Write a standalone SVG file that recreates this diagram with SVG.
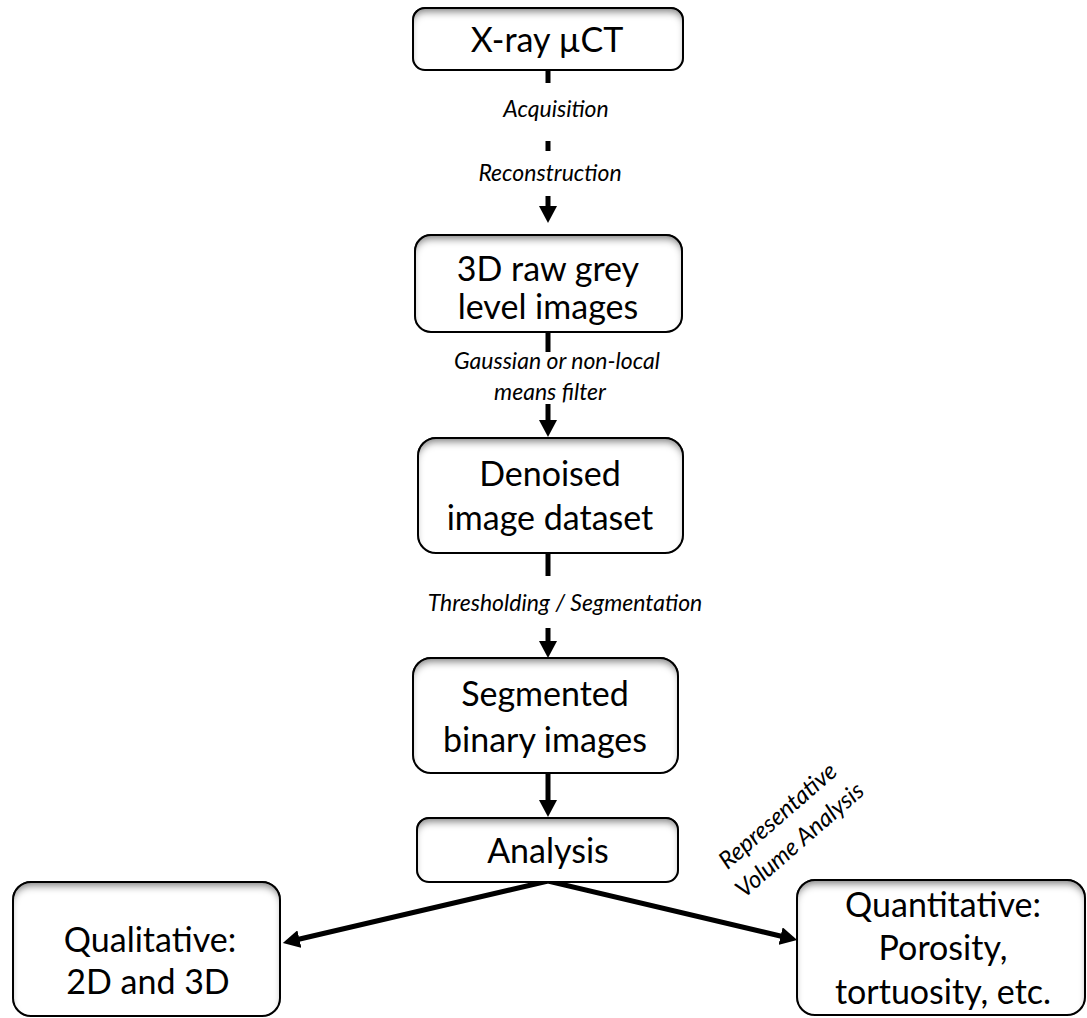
<svg xmlns="http://www.w3.org/2000/svg" width="1087" height="1018" viewBox="0 0 1087 1018">
<style>
.box{fill:#fff;stroke:#000;stroke-width:2;filter:url(#inset)}
.t{font-family:Lato,"Open Sans",sans-serif;font-size:34px;fill:#000;text-anchor:middle}
.l{font-family:Lato,"Open Sans",sans-serif;font-size:23px;font-style:italic;fill:#000;text-anchor:middle}
.r{font-size:24px}
.c{stroke:#000;stroke-width:5;fill:none}
</style>
<defs>
<filter id="inset" x="-5%" y="-10%" width="110%" height="120%">
<feOffset in="SourceAlpha" dy="6" result="off"/>
<feGaussianBlur in="off" stdDeviation="3.5" result="blur"/>
<feComposite in="SourceAlpha" in2="blur" operator="out" result="inv"/>
<feFlood flood-color="#000" flood-opacity="0.75"/>
<feComposite in2="inv" operator="in" result="shadow"/>
<feMerge><feMergeNode in="SourceGraphic"/><feMergeNode in="shadow"/></feMerge>
</filter>
<marker id="ah" markerUnits="userSpaceOnUse" markerWidth="18" markerHeight="18" refX="4" refY="9" orient="auto-start-reverse">
<path d="M0,0 L17,9 L0,18 z" fill="#000"/>
</marker>
</defs>
<rect width="1087" height="1018" fill="#fff"/>

<g id="connectors">
<line class="c" x1="548" y1="70" x2="548" y2="83"/>
<line class="c" x1="548" y1="141" x2="548" y2="151"/>
<line class="c" x1="548" y1="196" x2="548" y2="210" marker-end="url(#ah)"/>
<line class="c" x1="548" y1="332" x2="548" y2="352"/>
<line class="c" x1="548" y1="404" x2="548" y2="424" marker-end="url(#ah)"/>
<line class="c" x1="548" y1="553" x2="548" y2="576"/>
<line class="c" x1="548" y1="628" x2="548" y2="645" marker-end="url(#ah)"/>
<line class="c" x1="548" y1="773" x2="548" y2="804" marker-end="url(#ah)"/>
<path class="c" d="M295.5,940 L548,881 L784.5,937" marker-start="url(#ah)" marker-end="url(#ah)"/>
<text class="l" x="556" y="117">Acquisition</text>
<text class="l" x="550" y="181">Reconstruction</text>
<text class="l" x="557" y="369">Gaussian or non-local</text>
<text class="l" x="550" y="400">means filter</text>
<text class="l" x="565" y="611">Thresholding / Segmentation</text>
<text class="l r" transform="translate(783,822) rotate(-41)">Representative</text>
<text class="l r" transform="translate(805,846) rotate(-41)">Volume Analysis</text>
</g>

<g id="n-xray">
<rect class="box" x="413" y="8" width="270" height="62" rx="12"/>
<text class="t" x="547" y="52">X-ray µCT</text>
</g>
<g id="n-raw">
<rect class="box" x="415" y="235" width="267" height="97" rx="16"/>
<text class="t" x="548" y="281">3D raw grey</text>
<text class="t" x="548" y="319">level images</text>
</g>
<g id="n-denoised">
<rect class="box" x="418" y="438" width="265" height="115" rx="18"/>
<text class="t" x="550" y="486">Denoised</text>
<text class="t" x="550" y="530">image dataset</text>
</g>
<g id="n-segmented">
<rect class="box" x="413" y="658" width="265" height="115" rx="18"/>
<text class="t" x="545" y="706">Segmented</text>
<text class="t" x="545" y="752">binary images</text>
</g>
<g id="n-analysis">
<rect class="box" x="417" y="818" width="261" height="64" rx="12"/>
<text class="t" x="548" y="863">Analysis</text>
</g>
<g id="n-qualitative">
<rect class="box" x="13" y="882" width="267" height="134" rx="18"/>
<text class="t" x="150" y="952">Qualitative:</text>
<text class="t" x="148" y="994">2D and 3D</text>
</g>
<g id="n-quantitative">
<rect class="box" x="797" y="880" width="288" height="135" rx="18"/>
<text class="t" x="943" y="917">Quantitative:</text>
<text class="t" x="943" y="960">Porosity,</text>
<text class="t" x="943" y="1004">tortuosity, etc.</text>
</g>
</svg>
